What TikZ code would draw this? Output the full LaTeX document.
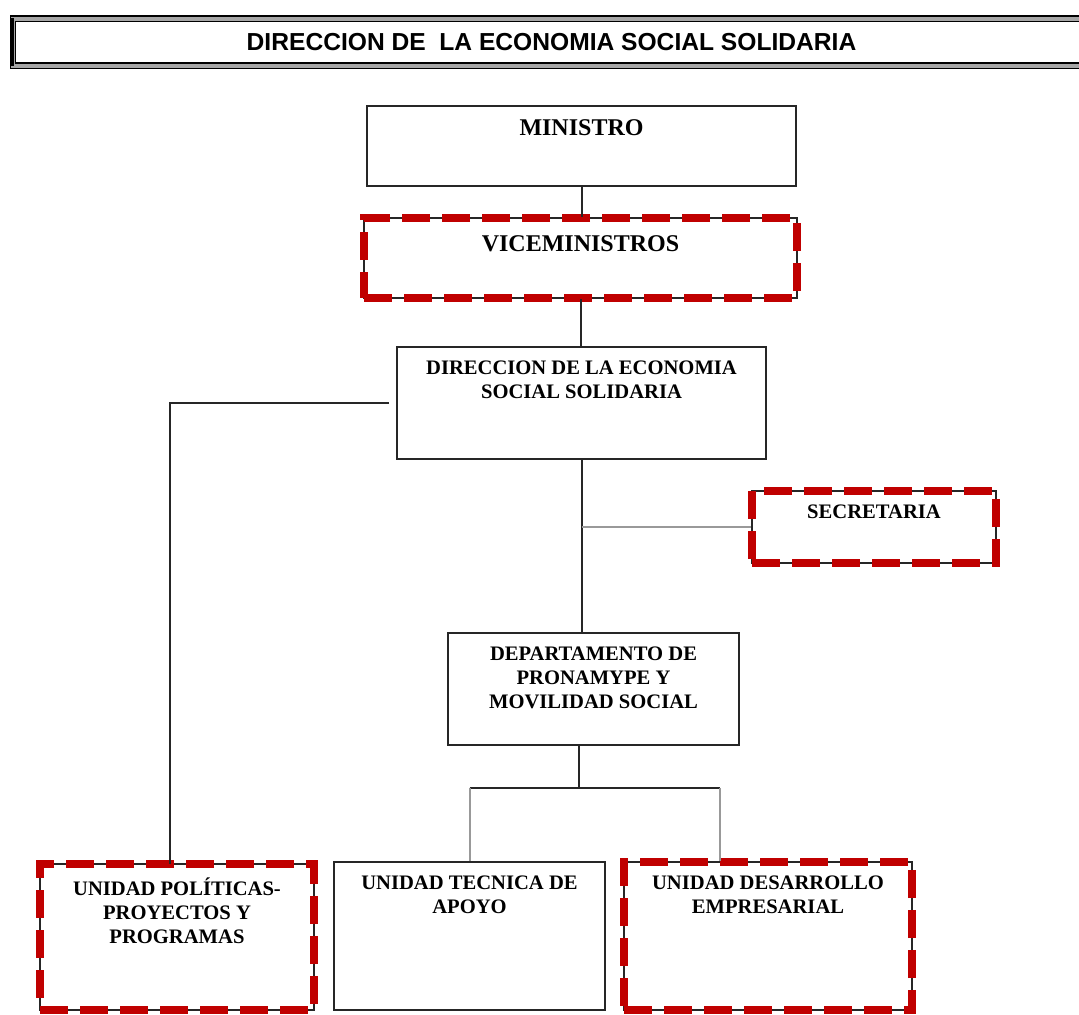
\documentclass[tikz,border=0pt]{standalone}
\usepackage{fontspec}
\setmainfont{Liberation Serif}
\newfontfamily\titlefont{Liberation Sans}
\usetikzlibrary{fit}
\definecolor{dashred}{RGB}{192,0,0}

\begin{document}
\begin{tikzpicture}[x=0.5pt,y=-0.5pt,
    box/.style={draw=black!85, line width=1pt, inner sep=0pt},
    redbox/.style={box, postaction={draw=dashred, line width=4pt, dash pattern=on 14pt off 6pt}},
    txt/.style={anchor=north, inner sep=0pt, yshift=-7pt, align=center, font=\fontsize{10.3}{12}\selectfont\bfseries},
    bigtxt/.style={txt, font=\fontsize{12}{14}\selectfont\bfseries},
    link/.style={line width=1pt, black!85},
    graylink/.style={line width=1pt, black!40}]
    \useasboundingbox (0,0) rectangle (1079,1014);

    % title bar
    \node[fit={(13,18.5) (1090,65.5)}, inner sep=0pt, draw, line width=.7pt, double=black!35, double distance=2pt,
        label={[anchor=center, inner sep=0pt, font=\titlefont\fontsize{12.3}{14}\selectfont\bfseries]center:DIRECCION DE \ LA ECONOMIA SOCIAL SOLIDARIA}] (title) {};
    \draw[line width=1.5pt] (title.north west) -- (title.south west);

    % boxes
    \node[box, fit={(367,106) (796,186)}, label={[bigtxt]north:MINISTRO}] (ministro) {};
    \node[redbox, fit={(364,218) (797,298)}, label={[bigtxt, yshift=-2pt]north:VICEMINISTROS}] (vice) {};
    \node[box, fit={(397,347) (766,459)}, label={[txt]north:{DIRECCION DE LA ECONOMIA\\SOCIAL SOLIDARIA}}] (direccion) {};
    \node[redbox, fit={(752,491) (996,563)}, label={[txt]north:SECRETARIA}] (secretaria) {};
    \node[box, fit={(448,633) (739,745)}, label={[txt]north:{DEPARTAMENTO DE\\PRONAMYPE Y\\MOVILIDAD SOCIAL}}] (depto) {};
    \node[redbox, fit={(40,864) (314,1010)}, label={[txt]north:{UNIDAD POLÍTICAS-\\PROYECTOS Y\\PROGRAMAS}}] (politicas) {};
    \node[box, fit={(334,862) (605,1010)}, label={[txt]north:{UNIDAD TECNICA DE\\APOYO}}] (tecnica) {};
    \node[redbox, fit={(624,862) (912,1010)}, label={[txt]north:{UNIDAD DESARROLLO\\EMPRESARIAL}}] (desarrollo) {};

    \coordinate (dleft) at ([xshift=-3.5pt]direccion.west);
    \coordinate (pleft) at (170,864);
    \coordinate (fork) at (579,788);
    \coordinate (forkr) at (720,788);

    % connectors
    \draw[link] (ministro.south) -- (ministro.south |- vice.north);
    \draw[link] (vice.south) -- (vice.south |- direccion.north);
    \draw[link] (direccion.south) -- (direccion.south |- depto.north);
    \draw[graylink] (direccion.south |- secretaria.west) -- (secretaria.west);
    \draw[link] (dleft) -| (pleft);
    \draw[link] (fork |- depto.south) -- (fork);
    \draw[link] (fork -| tecnica.north) -- (forkr);
    \draw[graylink] (fork -| tecnica.north) -- (tecnica.north);
    \draw[graylink] (forkr) -- (forkr |- desarrollo.north);

\end{tikzpicture}
\end{document}
